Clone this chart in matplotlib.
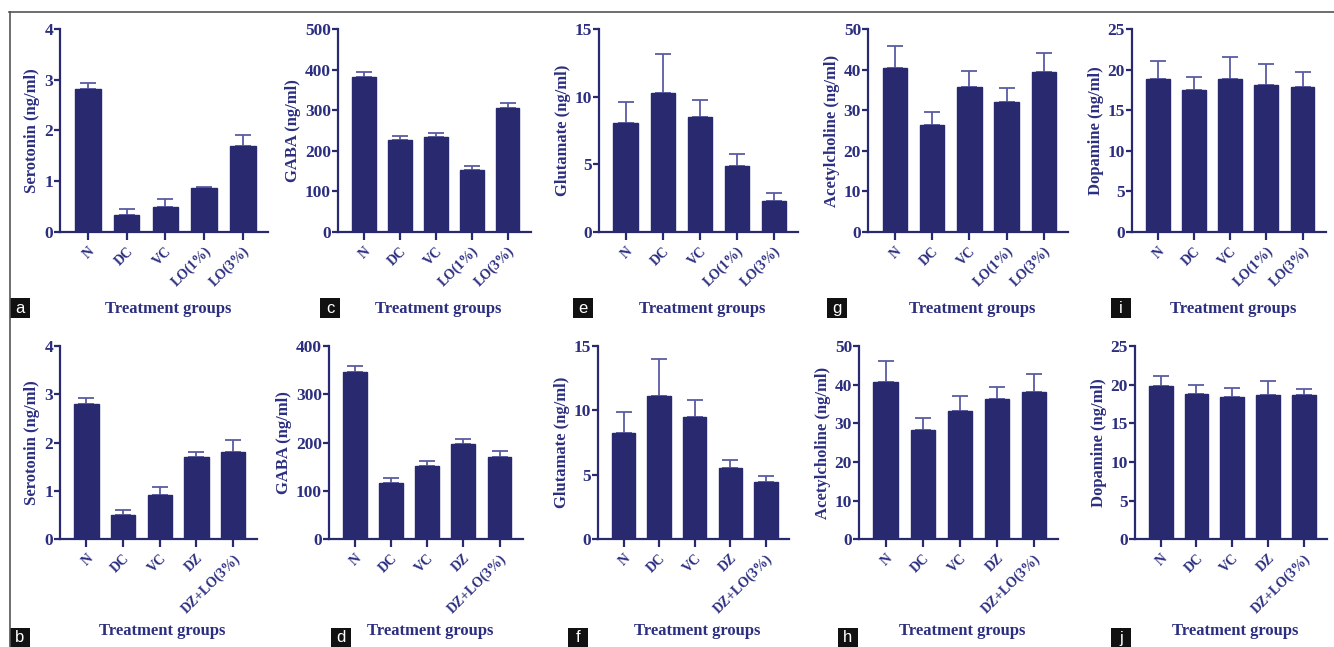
import matplotlib
matplotlib.use("Agg")
import matplotlib.pyplot as plt
from matplotlib.patches import Rectangle
from matplotlib.lines import Line2D

# ---- data -------------------------------------------------------------
groups_top = ["N", "DC", "VC", "LO(1%)", "LO(3%)"]
groups_bottom = ["N", "DC", "VC", "DZ", "DZ+LO(3%)"]

serotonin_top = [2.82, 0.34, 0.50, 0.87, 1.70]
serotonin_top_sem = [0.12, 0.11, 0.15, 0.02, 0.22]
gaba_top = [382, 227, 235, 153, 306]
gaba_top_sem = [11, 10, 8, 10, 12]
glutamate_top = [8.03, 10.25, 8.47, 4.88, 2.31]
glutamate_top_sem = [1.60, 2.90, 1.28, 0.86, 0.55]
ach_top = [40.3, 26.4, 35.6, 31.9, 39.3]
ach_top_sem = [5.6, 3.2, 4.1, 3.5, 4.9]
dopamine_top = [18.8, 17.5, 18.9, 18.1, 17.8]
dopamine_top_sem = [2.2, 1.55, 2.6, 2.6, 1.9]

serotonin_bottom = [2.80, 0.50, 0.92, 1.70, 1.80]
serotonin_bottom_sem = [0.13, 0.11, 0.17, 0.11, 0.26]
gaba_bottom = [346, 116, 152, 197, 171]
gaba_bottom_sem = [13, 11, 10, 10, 11]
glutamate_bottom = [8.23, 11.14, 9.47, 5.51, 4.42]
glutamate_bottom_sem = [1.67, 2.85, 1.34, 0.64, 0.49]
ach_bottom = [40.8, 28.3, 33.2, 36.2, 38.2]
ach_bottom_sem = [5.4, 3.2, 3.9, 3.1, 4.5]
dopamine_bottom = [19.83, 18.8, 18.44, 18.66, 18.66]
dopamine_bottom_sem = [1.27, 1.16, 1.16, 1.84, 0.74]

y_labels = ["Serotonin (ng/ml)", "GABA (ng/ml)", "Glutamate (ng/ml)",
            "Acetylcholine (ng/ml)", "Dopamine (ng/ml)"]
y_max = [4, 500, 15, 50, 25]
y_step = [1, 100, 5, 10, 5]
y_max_bottom = [4, 400, 15, 50, 25]
panel_letters_top = ["a", "c", "e", "g", "i"]
panel_letters_bottom = ["b", "d", "f", "h", "j"]

# ---- styling ----------------------------------------------------------
W, H = 1334, 647
NAVY = "#28296f"
TEXT = "#2c2e80"
ERR = "#5a5ca3"
SERIF = ["Liberation Serif", "DejaVu Serif"]

fig = plt.figure(figsize=(W / 100, H / 100), dpi=100)
fig.patch.set_facecolor("white")


def fx(px):
    return px / W


def fy(py):
    return 1 - py / H


def panel(left, right, top, zero, names, vals, sems, ylabel, ymax, ystep,
          letter, letter_x, letter_y, letter_h, title_y):
    ax = fig.add_axes([fx(left), fy(zero), fx(right - left), (zero - top) / H])
    x = list(range(len(names)))
    ax.bar(x, vals, width=0.66, color=NAVY, edgecolor=NAVY, zorder=2)
    ax.errorbar(x, vals, yerr=[[0] * len(vals), sems], fmt="none",
                ecolor=ERR, elinewidth=1.3, capsize=5.5, capthick=1.3,
                zorder=1)
    ax.set_xlim(-0.72, 4.65)
    ax.set_ylim(0, ymax)
    ax.set_yticks(range(0, ymax + 1, ystep))
    ax.set_xticks(x)
    ax.set_xticklabels(names, rotation=45, ha="right", rotation_mode="anchor",
                       fontsize=10, fontweight="bold", family=SERIF, color=TEXT)
    for t in ax.get_yticklabels():
        t.set_fontsize(12.5)
        t.set_fontweight("bold")
        t.set_family(SERIF)
        t.set_color(TEXT)
    for s in ["top", "right"]:
        ax.spines[s].set_visible(False)
    for s in ["left", "bottom"]:
        ax.spines[s].set_color(NAVY)
        ax.spines[s].set_linewidth(1.6)
    ax.tick_params(axis="y", direction="out", length=4, width=1.6,
                   color=NAVY, pad=1)
    ax.tick_params(axis="x", direction="out", length=6, width=1.6,
                   color=NAVY, pad=3)
    ax.set_ylabel(ylabel, fontsize=12, fontweight="bold", family=SERIF,
                  color=TEXT, labelpad=3)
    ax.set_facecolor("none")
    # group title under the axis
    fig.text(fx((left + right) / 2 + 4), fy(title_y), "Treatment groups",
             ha="center", va="center", fontsize=12, fontweight="bold",
             family=SERIF, color=TEXT)
    # panel letter in a black box
    fig.add_artist(Rectangle((fx(letter_x), fy(letter_y + letter_h)), fx(20),
                             letter_h / H, transform=fig.transFigure,
                             facecolor="#111111", edgecolor="none",
                             clip_on=False))
    fig.text(fx(letter_x + 10), fy(letter_y + letter_h / 2 + 0.5), letter,
             ha="center", va="center", fontsize=12, color="white",
             family=["Liberation Sans", "DejaVu Sans"])
    return ax


top_left = [60, 338, 599, 868, 1132]
top_right = [268, 531, 798, 1068, 1326]
bot_left = [60, 329, 598, 859, 1135]
bot_right = [257, 523, 789, 1058, 1327]
top_letter_x = [10, 320, 573, 827, 1111]
bot_letter_x = [10, 331, 568, 838, 1111]

top_vals = [serotonin_top, gaba_top, glutamate_top, ach_top, dopamine_top]
top_sems = [serotonin_top_sem, gaba_top_sem, glutamate_top_sem, ach_top_sem,
            dopamine_top_sem]
bot_vals = [serotonin_bottom, gaba_bottom, glutamate_bottom, ach_bottom,
            dopamine_bottom]
bot_sems = [serotonin_bottom_sem, gaba_bottom_sem, glutamate_bottom_sem,
            ach_bottom_sem, dopamine_bottom_sem]

for i in range(5):
    panel(top_left[i], top_right[i], 29, 232, groups_top, top_vals[i],
          top_sems[i], y_labels[i], y_max[i], y_step[i],
          panel_letters_top[i], top_letter_x[i], 298, 20, 309)
    panel(bot_left[i], bot_right[i], 346, 539.3, groups_bottom, bot_vals[i],
          bot_sems[i], y_labels[i], y_max_bottom[i], y_step[i],
          panel_letters_bottom[i], bot_letter_x[i], 628, 19, 631)

# outer frame: top and left edges
fig.add_artist(Line2D([fx(9), 1], [fy(11.5), fy(11.5)], color="#555555",
                      linewidth=1.2, transform=fig.transFigure))
fig.add_artist(Line2D([fx(9.5), fx(9.5)], [fy(11.5), 0], color="#555555",
                      linewidth=1.2, transform=fig.transFigure))

fig.savefig("out.png", dpi=100, facecolor="white")
